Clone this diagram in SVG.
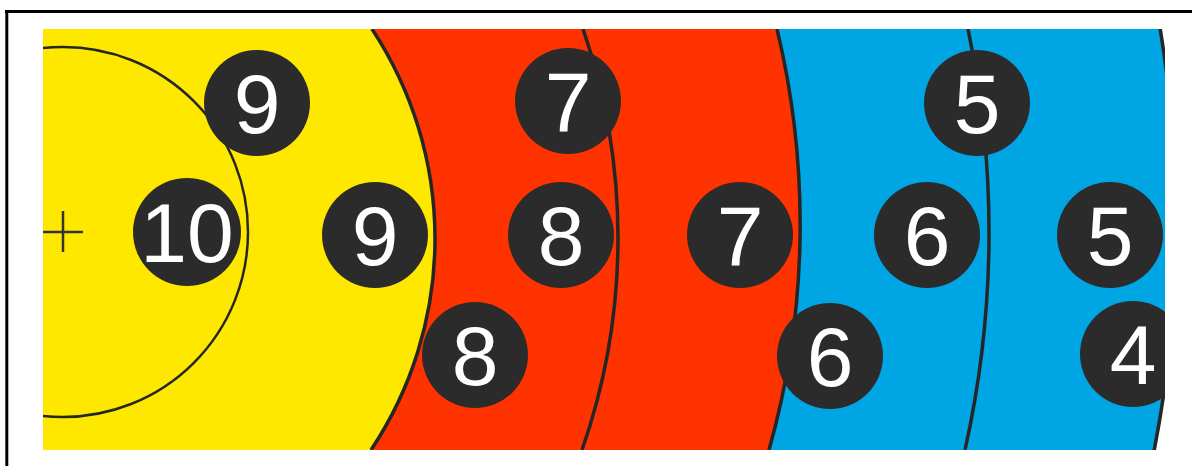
<svg xmlns="http://www.w3.org/2000/svg" width="1192" height="466" viewBox="0 0 1192 466">
<style>
.arc{fill:none;stroke:#262626;stroke-width:3.5}
.disc circle{fill:#2b2b2b}
.disc text{fill:#ffffff;font-family:"Liberation Sans",Arial,sans-serif;font-size:84px;text-anchor:middle}
</style>
<defs>
<clipPath id="photo"><rect x="43" y="29" width="1122" height="421"/></clipPath>
</defs>
<rect width="1192" height="466" fill="#ffffff"/>
<g id="frame">
<line x1="5" y1="11.5" x2="1192" y2="11.5" stroke="#000" stroke-width="3"/>
<line x1="6.8" y1="10" x2="6.8" y2="466" stroke="#000" stroke-width="3"/>
</g>
<g id="target" clip-path="url(#photo)">
<rect x="43" y="29" width="1122" height="421" fill="#ffffff"/>
<path d="M40 20 H1159.5 A1200 1200 0 0 1 1152.5 459 H40 Z" fill="#00a5e3"/>
<path d="M40 20 H1158.7 A1200 1200 0 0 1 1152.5 459" class="arc"/>
<path d="M968 29 A996 996 0 0 1 965 450" class="arc"/>
<path d="M40 29 H777 A834 834 0 0 1 769 450 H40 Z" fill="#ff3300"/>
<path d="M777 29 A834 834 0 0 1 769 450" class="arc"/>
<path d="M583 29 A642 642 0 0 1 582 450" class="arc"/>
<path d="M40 29 H372 A380.6 380.6 0 0 1 371 450 H40 Z" fill="#ffe800"/>
<path d="M372 29 A380.6 380.6 0 0 1 371 450" class="arc"/>
<circle cx="63" cy="232" r="185" fill="none" stroke="#262626" stroke-width="2.5"/>
<g id="cross" stroke="#333" stroke-width="2.5">
<line x1="43" y1="232" x2="83" y2="232"/>
<line x1="63" y1="211" x2="63" y2="252"/>
</g>
<g id="d9a" class="disc"><circle cx="257" cy="103" r="53"/><text x="257" y="133">9</text></g>
<g id="d10" class="disc"><circle cx="187" cy="232" r="54"/><text x="187" y="262">10</text></g>
<g id="d9b" class="disc"><circle cx="375" cy="235" r="53"/><text x="375" y="265">9</text></g>
<g id="d8a" class="disc"><circle cx="475" cy="355" r="53"/><text x="475" y="385">8</text></g>
<g id="d7a" class="disc"><circle cx="568" cy="101" r="53"/><text x="568" y="131">7</text></g>
<g id="d8b" class="disc"><circle cx="561" cy="235" r="53"/><text x="561" y="265">8</text></g>
<g id="d7b" class="disc"><circle cx="740" cy="235" r="53"/><text x="740" y="265">7</text></g>
<g id="d6a" class="disc"><circle cx="830" cy="356" r="53"/><text x="830" y="386">6</text></g>
<g id="d6b" class="disc"><circle cx="927" cy="235" r="53"/><text x="927" y="265">6</text></g>
<g id="d5a" class="disc"><circle cx="977" cy="103" r="53"/><text x="977" y="133">5</text></g>
<g id="d5b" class="disc"><circle cx="1110" cy="235" r="53"/><text x="1110" y="265">5</text></g>
<g id="d4" class="disc"><circle cx="1133" cy="354" r="53"/><text x="1133" y="384">4</text></g>
</g>
</svg>
